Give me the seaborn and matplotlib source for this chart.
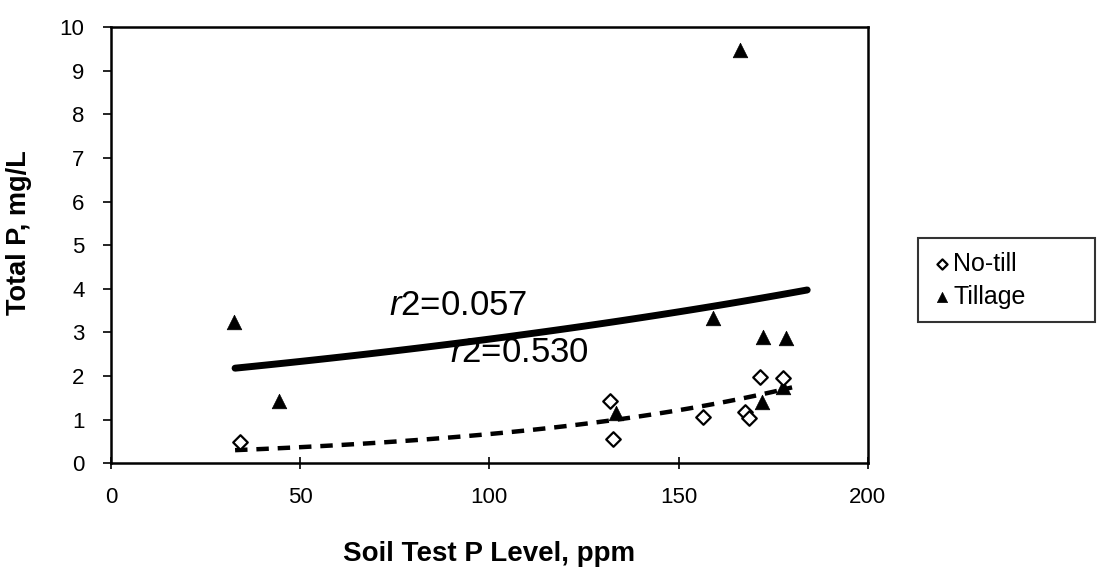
import numpy as np
import pandas as pd
import matplotlib
matplotlib.use("Agg")
import matplotlib.pyplot as plt
import seaborn as sns

# soil test P (ppm) vs total P (mg/L)
notill_x = [34.0, 132.0, 132.8, 156.5, 167.6, 168.6, 171.5, 177.6]
notill_y = [0.48, 1.42, 0.55, 1.06, 1.17, 1.03, 1.97, 1.95]
tillage_x = [32.5, 44.5, 133.6, 159.2, 166.2, 172.3, 178.4, 172.0, 177.6]
tillage_y = [3.25, 1.42, 1.15, 3.33, 9.47, 2.89, 2.87, 1.40, 1.74]

# exponential trendlines y = a*exp(b*x), with their x ranges
notill_fit = (0.2028, 0.01194, 32.8, 180.0)
tillage_fit = (1.914, 0.00397, 32.8, 184.0)
r2_labels = ["r2=0.530", "r2=0.057"]

xticks = [0, 50, 100, 150, 200]
yticks = list(range(0, 11))

sns.set_style("ticks")
plt.rcParams['font.family'] = ['Liberation Sans', 'DejaVu Sans']
plt.rcParams['mathtext.fontset'] = 'custom'
plt.rcParams['mathtext.it'] = 'Liberation Sans:italic'
plt.rcParams['mathtext.rm'] = 'Liberation Sans'
plt.rcParams['text.color'] = 'black'
plt.rcParams['axes.labelcolor'] = 'black'
plt.rcParams['xtick.color'] = 'black'
plt.rcParams['ytick.color'] = 'black'

pts = pd.DataFrame({
    "x": notill_x + tillage_x,
    "y": notill_y + tillage_y,
    "group": ["No-till"] * len(notill_x) + ["Tillage"] * len(tillage_x),
})


def trend(fit, n=60):
    a, b, x0, x1 = fit
    xs = np.linspace(x0, x1, n)
    return pd.DataFrame({"x": xs, "y": a * np.exp(b * xs)})


fig = plt.figure(figsize=(11.04, 5.67), dpi=100)
ax = fig.add_axes([0.1005, 0.183, 0.6855, 0.769])

sns.lineplot(data=trend(tillage_fit), x="x", y="y", ax=ax, color="black",
             linewidth=5, solid_capstyle="round")
sns.lineplot(data=trend(notill_fit), x="x", y="y", ax=ax, color="black",
             linewidth=3.2, linestyle=(0, (2.8, 2.0)))

nt = pts[pts.group == "No-till"]
tl = pts[pts.group == "Tillage"]
sns.scatterplot(data=tl, x="x", y="y", ax=ax, marker="^", s=110,
                color="black", edgecolor="black", linewidth=0.5,
                label="Tillage", zorder=3)
sns.scatterplot(data=nt, x="x", y="y", ax=ax, marker="D", s=55,
                facecolor="white", edgecolor="black", linewidth=1.6,
                label="No-till", zorder=4)

ax.text(73.5, 3.62, r"$\mathit{r}$" + r2_labels[1][1:], fontsize=25, va="center")
ax.text(89.5, 2.55, r"$\mathit{r}$" + r2_labels[0][1:], fontsize=25, va="center")

ax.set_xlim(0, 200)
ax.set_ylim(0, 10)
ax.set_xticks(xticks)
ax.set_yticks(yticks)
ax.tick_params(axis="x", direction="inout", length=8, width=1.2, pad=13, labelsize=16)
ax.tick_params(axis="y", direction="out", length=6, width=1.2, pad=13, labelsize=16)
for s in ax.spines.values():
    s.set_linewidth(1.8)
    s.set_color("black")

ax.set_xlabel("Soil Test P Level, ppm", fontsize=20, fontweight="bold", labelpad=24)
ax.set_ylabel("Total P, mg/L", fontsize=19.5, fontweight="bold")
ax.yaxis.set_label_coords(-0.104, 0.53)

handles, labels = ax.get_legend_handles_labels()
order = [labels.index("No-till"), labels.index("Tillage")]
ax.legend_.remove()
leg = fig.legend([handles[i] for i in order], [labels[i] for i in order],
                 loc="upper left",
                 bbox_to_anchor=(918 / 1104, 1 - 323 / 567, 177 / 1104, 85 / 567),
                 mode="expand", frameon=True, fancybox=False, edgecolor="black",
                 fontsize=18, handletextpad=0.05, handlelength=0.8,
                 borderpad=0.55, borderaxespad=0.0, labelspacing=0.35,
                 markerscale=0.7)
leg.get_frame().set_linewidth(1.5)

fig.savefig("out.png", dpi=100)
